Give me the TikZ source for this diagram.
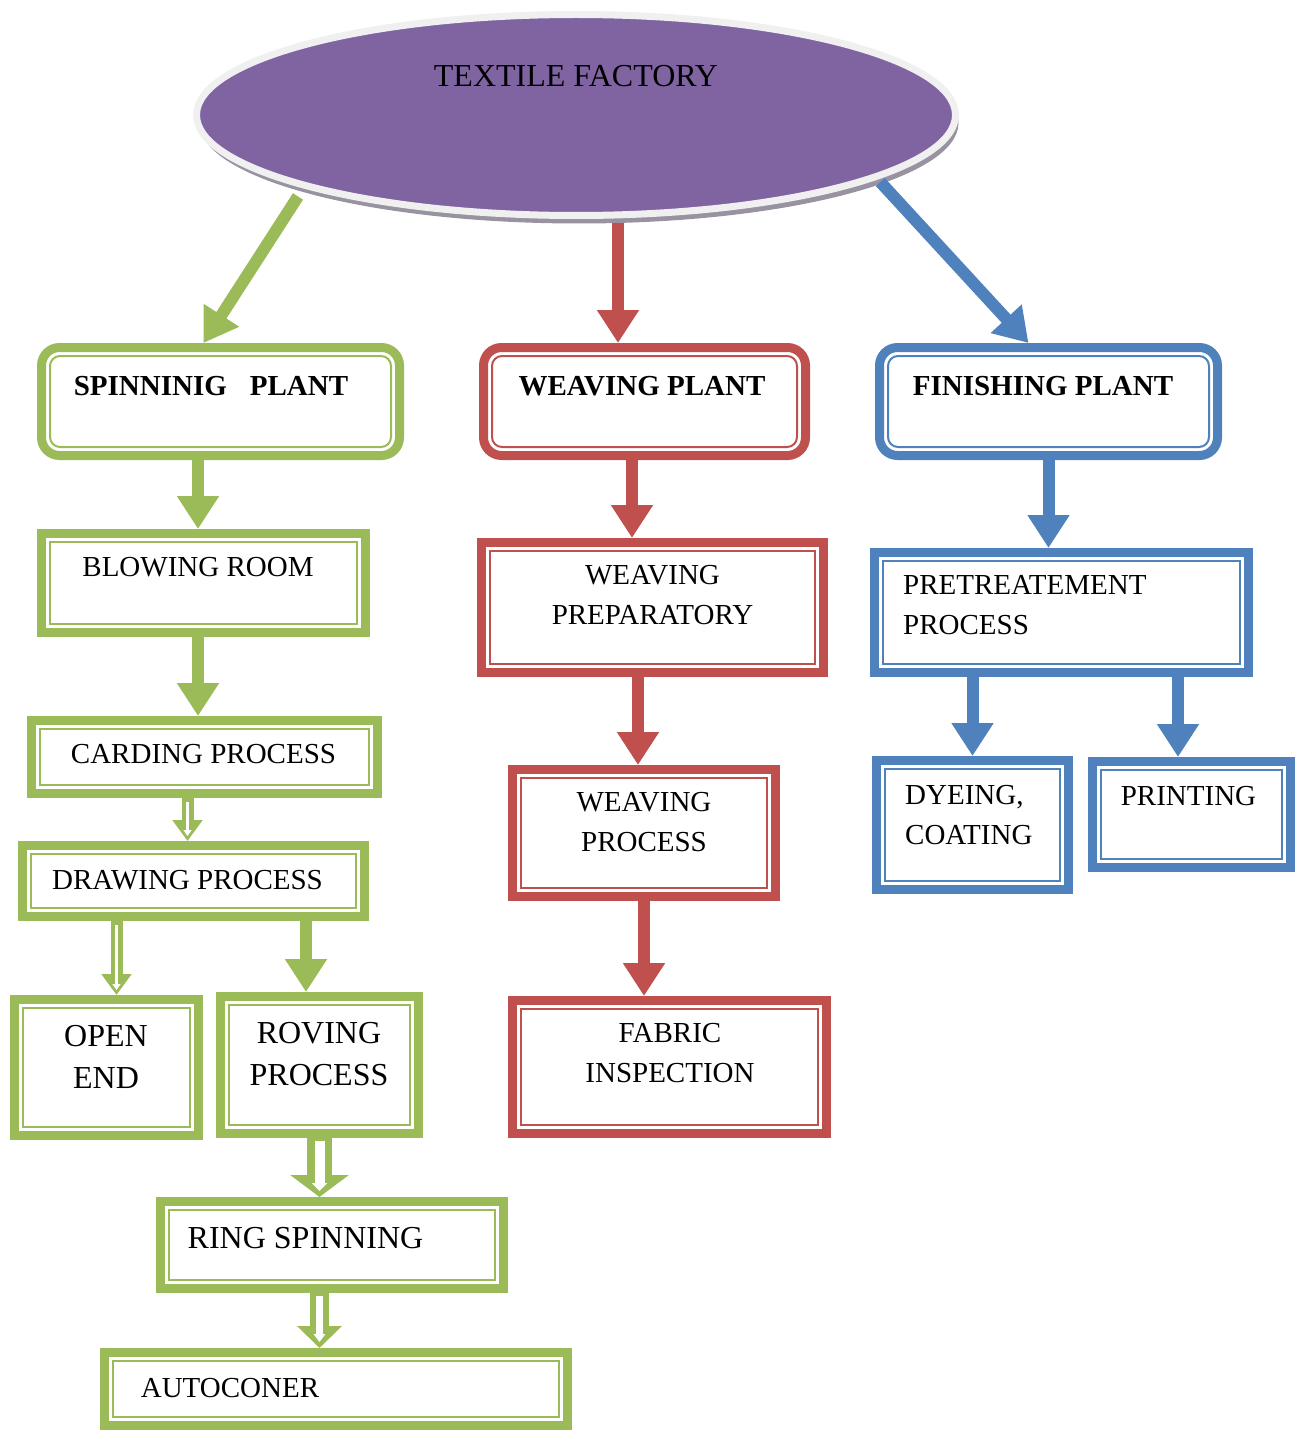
\documentclass[tikz,border=0pt]{standalone}
\usepackage{fontspec}
\setmainfont{Liberation Serif}
\usepackage{tikz}
\usetikzlibrary{calc,positioning,shapes.geometric,arrows.meta,shadows}

\definecolor{gcol}{HTML}{9BBB59}
\definecolor{rcol}{HTML}{C0504D}
\definecolor{bcol}{HTML}{4F81BD}
\definecolor{pcol}{HTML}{8064A2}

\tikzset{
  box/.style={draw=#1, line width=9pt, fill=white, inner sep=0pt,
    path picture={\draw[draw=#1, line width=2pt]
      ([shift={(8.5pt,8.5pt)}]path picture bounding box.south west) rectangle
      ([shift={(-8.5pt,-8.5pt)}]path picture bounding box.north east);}},
  rbox/.style={draw=#1, line width=9pt, fill=white, inner sep=0pt, rounded corners=18pt,
    path picture={\draw[draw=#1, line width=2pt, rounded corners=10pt]
      ([shift={(8.5pt,8.5pt)}]path picture bounding box.south west) rectangle
      ([shift={(-8.5pt,-8.5pt)}]path picture bounding box.north east);}},
  txt/.style={font=\fontsize{29}{40}\selectfont, inner sep=0pt, align=center},
  ltxt/.style={txt, font=\fontsize{32}{42}\selectfont},
  btxt/.style={txt, font=\fontsize{29}{40}\selectfont\bfseries},
  arr/.style={draw=#1, line width=12pt, -{Triangle[length=33pt,width=40pt]}},
  harr/.style={draw=gcol, line width=12pt, -{Triangle[length=21pt,width=29pt]},
    postaction={draw=white, line width=3.5pt, shorten <=4pt, shorten >=5pt,
      -{Triangle[length=6pt,width=8pt]}}},
  harrb/.style={draw=gcol, line width=#1, -{Triangle[length=22pt,width=2.3*#1]},
    postaction={draw=white, line width=0.4*#1, shorten <=3pt, shorten >=6pt,
      -{Triangle[length=8pt,width=0.6*#1]}}},
}

\begin{document}
\begin{tikzpicture}[x=1pt, y=-1pt]
\useasboundingbox (0,0) rectangle (1303,1431);

%Factory
\node[ellipse, fill=pcol, draw=black!6, line width=7pt, minimum width=759pt, minimum height=201pt,
  drop shadow={shadow xshift=3pt, shadow yshift=-8pt, fill=pcol!30!gray!80, opacity=1}] (factory) at (576,115) {};
\node[txt, font=\fontsize{32}{40}\selectfont] (factoryt) at (576,76) {TEXTILE FACTORY};

%Plants
\node[rbox=gcol, minimum width=358pt, minimum height=108pt] (spin) at (220.5,401.5) {};
\node[rbox=rcol, minimum width=322pt, minimum height=108pt] (wpl) at (644.5,401.5) {};
\node[rbox=bcol, minimum width=338pt, minimum height=108pt] (fpl) at (1048.5,401.5) {};
\node[btxt] (spint) at (211,386) {SPINNINIG\hspace{23pt}PLANT};
\node[btxt] (wplt) at (642,386) {WEAVING PLANT};
\node[btxt] (fplt) at (1043,386) {FINISHING PLANT};

%Spinning
\node[box=gcol, minimum width=324pt, minimum height=99pt] (blow) at (203.5,583) {};
\node[box=gcol, minimum width=346pt, minimum height=73pt] (card) at (204.5,757) {};
\node[box=gcol, minimum width=342pt, minimum height=71pt] (drw) at (193.5,881) {};
\node[box=gcol, minimum width=184pt, minimum height=136pt] (open) at (106.5,1067.5) {};
\node[box=gcol, minimum width=198pt, minimum height=137pt] (rov) at (319.5,1065) {};
\node[box=gcol, minimum width=343pt, minimum height=87pt] (ring) at (332,1245) {};
\node[box=gcol, minimum width=463pt, minimum height=73pt] (auto) at (336,1389) {};
\node[txt] (blowt) at (198,567) {BLOWING ROOM};
\node[txt] (cardt) at (203.5,754) {CARDING PROCESS};
\node[txt] (drwt) at (187.5,880) {DRAWING PROCESS};
\node[ltxt] (opent) at (106,1056.5) {OPEN\\END};
\node[ltxt] (rovt) at (319,1054) {ROVING\\PROCESS};
\node[ltxt] (ringt) at (305.5,1238) {RING SPINNING};
\node[txt] (autot) at (230,1388) {AUTOCONER};

%Weaving
\node[box=rcol, minimum width=342pt, minimum height=130pt] (prep) at (652.5,607.5) {};
\node[box=rcol, minimum width=263pt, minimum height=127pt] (wproc) at (644,833) {};
\node[box=rcol, minimum width=314pt, minimum height=133pt] (fab) at (669.5,1067) {};
\node[txt] (prept) at (652.5,595.5) {WEAVING\\PREPARATORY};
\node[txt] (wproct) at (644,822) {WEAVING\\PROCESS};
\node[txt] (fabt) at (670,1053) {FABRIC\\INSPECTION};

%Finishing
\node[box=bcol, minimum width=374pt, minimum height=120pt] (pre) at (1061.5,612.5) {};
\node[box=bcol, minimum width=192pt, minimum height=129pt] (dye) at (972.5,825) {};
\node[box=bcol, minimum width=198pt, minimum height=106pt] (prn) at (1191.5,814.5) {};
\node[txt, align=left, anchor=west] (pret) at (903,605.5) {PRETREATEMENT\\PROCESS};
\node[txt, align=left, anchor=west] (dyet) at (905,815) {DYEING,\\COATING};
\node[txt] (prnt) at (1188.5,796) {PRINTING};

%Arrows from the factory
\draw[arr=gcol, shorten <=10pt] (factory.195) -- ([xshift=-17pt]spin.north);
\draw[arr=rcol, shorten <=4pt] ([xshift=42pt]factory.south) -- ([xshift=-26.5pt]wpl.north);
\draw[arr=bcol, shorten <=4pt] (factory.-12) -- ([xshift=-20pt]fpl.north);

%Spinning arrows
\draw[arr=gcol] (spin.south -| blowt) -- (blow.north -| blowt);
\draw[arr=gcol] (blow.south -| blowt) -- (card.north -| blowt);
\draw[harr] (card.south -| drwt) -- (drw.north -| drwt);
\draw[harr] ($(drw.south -| open.north)+(10,0)$) -- ($(open.north)+(10,0)$);
\draw[arr=gcol] ($(drw.south -| rov.north)+(-13.5,0)$) -- ($(rov.north)+(-13.5,0)$);
\draw[harrb=25pt] (rov.south) -- (ring.north -| rov.south);
\draw[harrb=19pt] (ring.south -| rov.south) -- (auto.north -| rov.south);

%Weaving arrows
\draw[arr=rcol] ($(wpl.south)+(-12.5,0)$) -- ($(wpl.south |- prep.north)+(-12.5,0)$);
\draw[arr=rcol] ($(prep.south -| wproc.north)+(-6,0)$) -- ($(wproc.north)+(-6,0)$);
\draw[arr=rcol] (wproc.south) -- (wproc.south |- fab.north);

%Finishing arrows
\draw[arr=bcol] (fpl.south) -- (fpl.south |- pre.north);
\draw[arr=bcol] (pre.south -| dye.north) -- (dye.north);
\draw[arr=bcol] ($(pre.south -| prn.north)+(-13.5,0)$) -- ($(prn.north)+(-13.5,0)$);

\end{tikzpicture}
\end{document}
